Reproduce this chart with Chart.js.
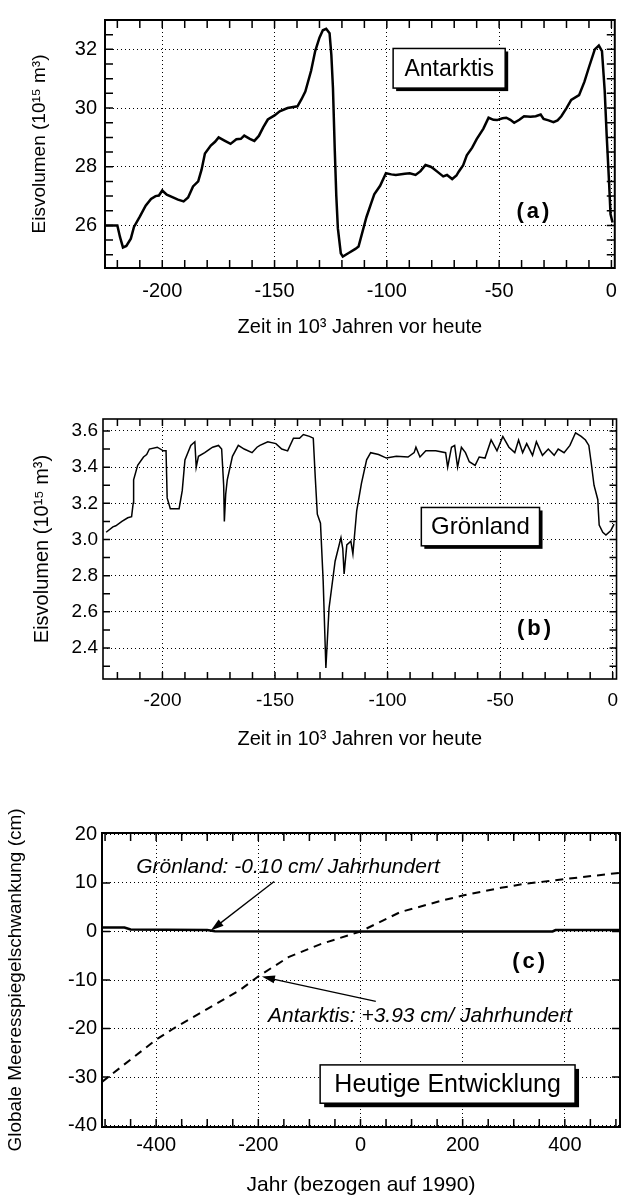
<!DOCTYPE html>
<html>
<head>
<meta charset="utf-8">
<script src="https://cdn.jsdelivr.net/npm/chart.js@4.4.1/dist/chart.umd.min.js"></script>
<style>
  body { margin: 0; background: #fff; }
  canvas { position: absolute; left: 0; display: block; }
</style>
</head>
<body>
<canvas id="antarktis" width="628" height="350" style="top:0"></canvas>
<canvas id="groenland" width="628" height="380" style="top:380px"></canvas>
<canvas id="heute" width="628" height="408" style="top:790px"></canvas>
<script>
const FONT = "'Liberation Sans', Arial, Helvetica, sans-serif";

// (a) Antarktis: Zeit (10^3 Jahre vor heute), Eisvolumen (10^15 m^3)
const antZeit = [-225.5, -220, -218.8, -217.5, -216, -214, -212.6, -210, -207.4, -205, -203, -201.5, -200, -198, -196, -193, -190.5, -188.5, -186.3, -184, -182.5, -181, -178.4, -176.5, -174.9, -172.3, -169.6, -167, -165, -163.5, -161, -159, -157, -155, -153, -150, -147.7, -144.2, -139.8, -138, -136.3, -133.7, -131.9, -130, -128.5, -127, -125.5, -124.7, -124, -123.2, -122.5, -121.8, -120.5, -119.6, -117, -114, -112.6, -109.1, -107, -105.6, -103, -100.4, -98, -96, -92, -89.8, -87.2, -85, -82.8, -80.5, -79.3, -77, -74.9, -73.2, -70.9, -69, -68, -66, -64.4, -62, -60, -57, -54.7, -52.5, -50.9, -48.5, -46.8, -45, -43.3, -41, -38.9, -36, -33.7, -31.5, -30.2, -28, -25.8, -24, -22.3, -20, -17.9, -14.4, -12, -10, -7.4, -5.6, -4.2, -3, -2.1, -1, -0.4, 0.5];
const antVolumen = [26.0, 26.0, 25.6, 25.25, 25.3, 25.55, 25.95, 26.3, 26.67, 26.9, 27.0, 27.02, 27.19, 27.05, 26.98, 26.88, 26.82, 26.95, 27.33, 27.5, 27.9, 28.45, 28.72, 28.85, 29.0, 28.89, 28.78, 28.94, 28.95, 29.06, 28.95, 28.88, 29.05, 29.35, 29.61, 29.75, 29.89, 30.0, 30.06, 30.3, 30.56, 31.28, 31.94, 32.4, 32.65, 32.7, 32.55, 31.8, 30.7, 28.6, 27.0, 25.9, 25.05, 24.94, 25.06, 25.2, 25.28, 26.28, 26.75, 27.06, 27.35, 27.78, 27.74, 27.72, 27.76, 27.78, 27.72, 27.85, 28.06, 28.0, 27.94, 27.8, 27.67, 27.72, 27.58, 27.7, 27.83, 28.05, 28.39, 28.65, 28.94, 29.3, 29.67, 29.6, 29.59, 29.65, 29.67, 29.6, 29.5, 29.6, 29.72, 29.7, 29.72, 29.78, 29.63, 29.58, 29.52, 29.58, 29.72, 30.0, 30.28, 30.44, 30.9, 31.39, 32.0, 32.13, 31.94, 30.6, 29.06, 27.4, 26.39, 26.1];
const antXTicks = [-200, -150, -100, -50, 0];
const antYTicks = [26, 28, 30, 32];

// (b) Grönland
const grlZeit = [-225, -222, -220.7, -218, -215.4, -213.7, -213, -212.8, -211, -208.4, -207, -205.8, -202.3, -199.6, -198.4, -197.9, -196.5, -192.6, -191.2, -190, -187.4, -185.6, -185, -184, -181.2, -179, -177.7, -175.1, -173.7, -172.8, -172.5, -171.9, -171.2, -168.9, -166.3, -163.7, -160.2, -158, -156.7, -153.2, -149.6, -147, -144.4, -141.8, -139.1, -137.4, -134.7, -133, -132.1, -131.2, -129.8, -128.6, -127.4, -126, -123.3, -120.7, -119.9, -119.3, -118.1, -116.3, -115.4, -113.7, -111.6, -109.3, -107.5, -104, -100.5, -96.1, -90.9, -88.2, -87.4, -85.6, -83, -78.6, -74.2, -73.3, -71.6, -70.2, -68.9, -67.2, -65.4, -63.7, -61.1, -59.3, -56.7, -54, -51.4, -48.8, -46.1, -43.5, -41.8, -40, -38.2, -35.6, -33.9, -31.2, -28.6, -26, -24.2, -21.6, -19, -16.5, -14, -12.1, -10.6, -9.5, -8.3, -6.6, -6.4, -6, -4.4, -3, -0.8, 0.6];
const grlVolumen = [3.04, 3.07, 3.076, 3.10, 3.12, 3.126, 3.2, 3.33, 3.41, 3.456, 3.47, 3.50, 3.51, 3.49, 3.49, 3.23, 3.17, 3.17, 3.27, 3.44, 3.52, 3.54, 3.40, 3.46, 3.48, 3.50, 3.51, 3.52, 3.50, 3.30, 3.10, 3.25, 3.33, 3.46, 3.52, 3.50, 3.48, 3.51, 3.52, 3.54, 3.53, 3.50, 3.49, 3.56, 3.56, 3.58, 3.57, 3.56, 3.34, 3.14, 3.09, 2.77, 2.29, 2.62, 2.88, 3.01, 2.95, 2.81, 2.97, 2.99, 2.92, 3.16, 3.31, 3.44, 3.48, 3.47, 3.45, 3.46, 3.456, 3.48, 3.51, 3.456, 3.49, 3.49, 3.48, 3.40, 3.51, 3.52, 3.40, 3.51, 3.48, 3.43, 3.41, 3.456, 3.45, 3.55, 3.49, 3.57, 3.51, 3.48, 3.55, 3.48, 3.53, 3.465, 3.54, 3.465, 3.50, 3.465, 3.50, 3.48, 3.52, 3.59, 3.57, 3.55, 3.52, 3.42, 3.30, 3.22, 3.165, 3.08, 3.04, 3.025, 3.05, 3.085];
const grlXTicks = [-200, -150, -100, -50, 0];
const grlYTicks = [2.4, 2.6, 2.8, 3.0, 3.2, 3.4, 3.6];

// (c) Heutige Entwicklung: Jahr (bezogen auf 1990), Meeresspiegel (cm)
const heuteGrlJahr = [-506, -462, -450, -380, -300, -285, 0, 376, 382, 508];
const heuteGrlPegel = [0.8, 0.8, 0.4, 0.35, 0.3, 0.05, 0, 0, 0.3, 0.3];
const heuteAntJahr = [-506, -450, -400, -366, -330, -281, -235, -198, -141, -78, 0, 78, 157, 200, 275, 320, 376, 400, 508];
const heuteAntPegel = [-31, -26.4, -22.3, -20, -17.8, -14.8, -12.0, -9.1, -5.3, -2.6, 0, 4.0, 6.3, 7.4, 9.0, 9.8, 10.5, 10.8, 12.1];
const heuteXTicks = [-400, -200, 0, 200, 400];
const heuteYTicks = [-40, -30, -20, -10, 0, 10, 20];

function pts(xs, ys) {
  return xs.map((x, i) => ({ x: x, y: ys[i] }));
}

function steps(from, to, step) {
  const out = [];
  for (let v = from; v <= to + 1e-9; v += step) out.push(+v.toFixed(3));
  return out;
}

// frame, inward ticks, label boxes, texts and arrows
function framePlugin(o) {
  return {
    id: 'frame',
    afterDraw(chart) {
      const { ctx, chartArea: a } = chart;
      const sx = chart.scales.x, sy = chart.scales.y;
      const px = v => sx.getPixelForValue(v);
      const py = v => sy.getPixelForValue(v);
      ctx.save();
      ctx.strokeStyle = '#000';
      ctx.fillStyle = '#000';
      ctx.lineWidth = 1.5;
      ctx.beginPath();
      o.minorX.forEach(v => {
        const p = px(v);
        ctx.moveTo(p, a.bottom); ctx.lineTo(p, a.bottom - o.tickLen);
        ctx.moveTo(p, a.top); ctx.lineTo(p, a.top + o.tickLen);
      });
      o.minorY.forEach(v => {
        const p = py(v);
        ctx.moveTo(a.left, p); ctx.lineTo(a.left + o.tickLen, p);
        ctx.moveTo(a.right, p); ctx.lineTo(a.right - o.tickLen, p);
      });
      ctx.stroke();
      ctx.lineWidth = o.frameWidth;
      ctx.strokeRect(a.left, a.top, a.right - a.left, a.bottom - a.top);

      (o.arrows || []).forEach(ar => {
        const x1 = px(ar.from[0]), y1 = py(ar.from[1]);
        const x2 = px(ar.to[0]), y2 = py(ar.to[1]);
        const ang = Math.atan2(y2 - y1, x2 - x1);
        ctx.lineWidth = 1.3;
        ctx.beginPath();
        ctx.moveTo(x1, y1);
        ctx.lineTo(x2 - 8 * Math.cos(ang), y2 - 8 * Math.sin(ang));
        ctx.stroke();
        ctx.beginPath();
        ctx.moveTo(x2, y2);
        ctx.lineTo(x2 - 13 * Math.cos(ang) + 4 * Math.sin(ang), y2 - 13 * Math.sin(ang) - 4 * Math.cos(ang));
        ctx.lineTo(x2 - 13 * Math.cos(ang) - 4 * Math.sin(ang), y2 - 13 * Math.sin(ang) + 4 * Math.cos(ang));
        ctx.closePath();
        ctx.fill();
      });

      (o.boxes || []).forEach(b => {
        const x1 = px(b.x1), x2 = px(b.x2), y1 = py(b.y1), y2 = py(b.y2);
        ctx.fillStyle = '#000';
        ctx.fillRect(x1 + b.shadow, y1 + b.shadow, x2 - x1, y2 - y1);
        ctx.fillStyle = '#fff';
        ctx.fillRect(x1, y1, x2 - x1, y2 - y1);
        ctx.lineWidth = 1.5;
        ctx.strokeRect(x1, y1, x2 - x1, y2 - y1);
        ctx.fillStyle = '#000';
        ctx.font = b.font;
        ctx.textAlign = 'center';
        ctx.textBaseline = 'middle';
        ctx.fillText(b.text, (x1 + x2) / 2, (y1 + y2) / 2 + 1);
      });

      (o.texts || []).forEach(t => {
        ctx.fillStyle = '#000';
        ctx.font = t.font;
        ctx.textAlign = t.align;
        ctx.textBaseline = t.baseline;
        if (t.spacing) ctx.letterSpacing = t.spacing;
        ctx.fillText(t.text, px(t.x), py(t.y));
        ctx.letterSpacing = '0px';
      });
      ctx.restore();
    }
  };
}

function panel(id, o) {
  const canvas = document.getElementById(id);
  const H = canvas.height;
  return new Chart(canvas, {
    type: 'line',
    data: { datasets: o.datasets },
    options: {
      responsive: false,
      animation: false,
      devicePixelRatio: 1,
      layout: { autoPadding: false, padding: { top: o.area.top, right: 628 - o.area.right, left: 0, bottom: 0 } },
      plugins: { legend: { display: false }, tooltip: { enabled: false } },
      elements: { point: { radius: 0 }, line: { tension: 0 } },
      scales: {
        x: {
          type: 'linear', min: o.xMin, max: o.xMax,
          afterFit: s => { s.height = H - o.area.bottom; },
          afterBuildTicks: s => { s.ticks = o.xTicks.map(v => ({ value: v })); },
          grid: { color: '#000', lineWidth: 1, drawTicks: false },
          border: { display: false, dash: [1, 3] },
          ticks: { color: '#000', font: { family: FONT, size: o.tickSize }, padding: o.xTickPad, maxRotation: 0, autoSkip: false },
          title: { display: true, text: o.xTitle, color: '#000', font: { family: FONT, size: o.xTitleSize }, padding: { top: 0, bottom: o.xTitlePad } }
        },
        y: {
          type: 'linear', min: o.yMin, max: o.yMax,
          afterFit: s => { s.width = o.area.left; },
          afterBuildTicks: s => { s.ticks = o.yTicks.map(v => ({ value: v })); },
          grid: { color: '#000', lineWidth: 1, drawTicks: false },
          border: { display: false, dash: [1, 3] },
          ticks: { color: '#000', font: { family: FONT, size: o.tickSize }, padding: o.yTickPad, autoSkip: false, callback: o.yFormat },
          title: { display: true, text: o.yTitle, color: '#000', font: { family: FONT, size: o.yTitleSize }, padding: { top: o.yTitlePad, bottom: 0 } }
        }
      }
    },
    plugins: [framePlugin(o)]
  });
}

panel('antarktis', {
  area: { left: 105, right: 624, top: 14, bottom: 268 },
  xMin: -225.5, xMax: 1.5, yMin: 24.55, yMax: 33,
  xTicks: antXTicks, yTicks: antYTicks,
  minorX: steps(-220, 0, 10), minorY: steps(25, 32.5, 0.5),
  tickLen: 8, frameWidth: 2,
  tickSize: 20, xTickPad: 11, yTickPad: 8,
  xTitle: 'Zeit in 10³ Jahren vor heute', xTitleSize: 20, xTitlePad: 11,
  yTitle: 'Eisvolumen (10¹⁵ m³)', yTitleSize: 19, yTitlePad: 28,
  yFormat: v => String(v),
  datasets: [{ data: pts(antZeit, antVolumen), borderColor: '#000', borderWidth: 2.5 }],
  boxes: [{ text: 'Antarktis', x1: -97.2, x2: -47.3, y1: 32.03, y2: 30.68, shadow: 3, font: '23px ' + FONT }],
  texts: [{ text: '(a)', x: -34.3, y: 26.47, font: 'bold 22px ' + FONT, align: 'center', baseline: 'middle', spacing: '3px' }]
});

panel('groenland', {
  area: { left: 103, right: 625, top: 39, bottom: 299 },
  xMin: -226.4, xMax: 1.7, yMin: 2.229, yMax: 3.666,
  xTicks: grlXTicks, yTicks: grlYTicks,
  minorX: steps(-220, 0, 10), minorY: steps(2.3, 3.6, 0.1),
  tickLen: 7, frameWidth: 1.6,
  tickSize: 19, xTickPad: 10, yTickPad: 5,
  xTitle: 'Zeit in 10³ Jahren vor heute', xTitleSize: 20, xTitlePad: 9,
  yTitle: 'Eisvolumen (10¹⁵ m³)', yTitleSize: 20, yTitlePad: 30,
  yFormat: v => v.toFixed(1),
  datasets: [{ data: pts(grlZeit, grlVolumen), borderColor: '#000', borderWidth: 1.5 }],
  boxes: [{ text: 'Grönland', x1: -85, x2: -32.5, y1: 3.177, y2: 2.965, shadow: 3, font: '24px ' + FONT }],
  texts: [{ text: '(b)', x: -34.3, y: 2.504, font: 'bold 22px ' + FONT, align: 'center', baseline: 'middle', spacing: '3px' }]
});

panel('heute', {
  area: { left: 102, right: 620, top: 43, bottom: 337 },
  xMin: -506, xMax: 508, yMin: -40.3, yMax: 20.3,
  xTicks: heuteXTicks, yTicks: heuteYTicks,
  minorX: steps(-500, 500, 50), minorY: steps(-30, 10, 10),
  tickLen: 8, frameWidth: 2,
  tickSize: 20, xTickPad: 6, yTickPad: 5,
  xTitle: 'Jahr (bezogen auf 1990)', xTitleSize: 21, xTitlePad: 0,
  yTitle: 'Globale Meeresspiegelschwankung (cm)', yTitleSize: 19, yTitlePad: 4,
  yFormat: v => String(v),
  datasets: [
    { data: pts(heuteGrlJahr, heuteGrlPegel), borderColor: '#000', borderWidth: 2.5 },
    { data: pts(heuteAntJahr, heuteAntPegel), borderColor: '#000', borderWidth: 2, borderDash: [8, 6] }
  ],
  arrows: [
    { from: [-169, 10.3], to: [-293, 0.2] },
    { from: [30, -14.4], to: [-193, -9.3] }
  ],
  boxes: [{ text: 'Heutige Entwicklung', x1: -79, x2: 420, y1: -27.5, y2: -35.4, shadow: 4, font: '25px ' + FONT }],
  texts: [
    { text: 'Grönland: -0.10 cm/ Jahrhundert', x: -439, y: 12.1, font: 'italic 21px ' + FONT, align: 'left', baseline: 'alphabetic' },
    { text: 'Antarktis: +3.93 cm/ Jahrhundert', x: -181, y: -18.6, font: 'italic 21px ' + FONT, align: 'left', baseline: 'alphabetic' },
    { text: '(c)', x: 332, y: -6.3, font: 'bold 22px ' + FONT, align: 'center', baseline: 'middle', spacing: '3px' }
  ]
});
</script>
</body>
</html>
